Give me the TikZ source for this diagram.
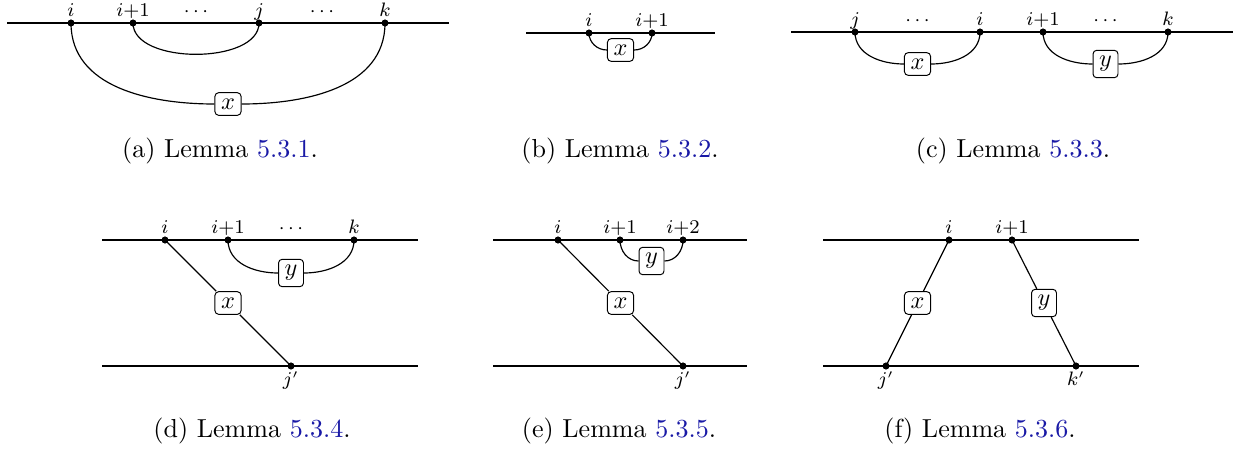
\documentclass[tikz,border=0pt]{standalone}
\usetikzlibrary{positioning}
\definecolor{linkblue}{rgb}{0.1,0.1,0.65}
\begin{document}
\begin{tikzpicture}[x=0.411pt,y=-0.411pt,
  dot/.style={circle,fill=black,inner sep=0pt,minimum size=2.8pt},
  box/.style={draw,rounded corners=1.5pt,fill=white,inner sep=2.5pt,font=\normalsize},
  toplab/.style={anchor=base,font=\fontsize{7.6}{9}\selectfont,inner sep=0pt},
  botlab/.style={anchor=north,font=\fontsize{7.6}{9}\selectfont,inner sep=0pt},
  captext/.style={anchor=base,font=\fontsize{10.7}{13}\selectfont,inner sep=0pt},
  wire/.style={line width=0.48pt}]
\useasboundingbox (0,0) rectangle (1237,448);
% ---------------- (a)
\coordinate (aL) at (7,23); \coordinate (aR) at (449,23);
\draw[wire] (aL) -- (aR);
\node[dot] (ai) at (71,23) {};
\node[dot] (ai1) at (133,23) {};
\node[dot] (aj) at (259,23) {};
\node[dot] (ak) at (385,23) {};
\node[box] (ax) at (228,104) {$x$};
\draw[wire] (ai1.center) to[out=-90,in=-90,looseness=0.85] (aj.center);
\draw[wire] (ai.center) to[out=-90,in=180] (ax.west);
\draw[wire] (ax.east) to[out=0,in=-90] (ak.center);
\node[dot] at (ai) {}; \node[dot] at (ai1) {}; \node[dot] at (aj) {}; \node[dot] at (ak) {};
\node[toplab] (lai) at (71,16) {$i$};
\node[toplab] (lai1) at (133,16) {$i{+}1$};
\node[toplab] (lad1) at (196,16) {$\cdots$};
\node[toplab] (laj) at (259,16) {$j$};
\node[toplab] (lad2) at (322,16) {$\cdots$};
\node[toplab] (lak) at (385,16) {$k$};
\node[captext] (capa) at (220,157) {(a) Lemma \textcolor{linkblue}{5.3.1}.};
% ---------------- (b)
\coordinate (bL) at (526,33); \coordinate (bR) at (715,33);
\draw[wire] (bL) -- (bR);
\node[dot] (bi) at (589,33) {};
\node[dot] (bi1) at (652,33) {};
\node[box] (bx) at (620.5,50) {$x$};
\draw[wire] (bi.center) to[out=-90,in=180] (bx.west);
\draw[wire] (bx.east) to[out=0,in=-90] (bi1.center);
\node[dot] at (bi) {}; \node[dot] at (bi1) {};
\node[toplab] (lbi) at (589,26) {$i$};
\node[toplab] (lbi1) at (652,26) {$i{+}1$};
\node[captext] (capb) at (620,157) {(b) Lemma \textcolor{linkblue}{5.3.2}.};
% ---------------- (c)
\coordinate (cL) at (791,32); \coordinate (cR) at (1233,32);
\draw[wire] (cL) -- (cR);
\node[dot] (cj) at (855,32) {};
\node[dot] (ci) at (980,32) {};
\node[dot] (ci1) at (1043,32) {};
\node[dot] (ck) at (1168,32) {};
\node[box] (cx) at (917.5,64) {$x$};
\node[box] (cy) at (1105.5,64) {$y$};
\draw[wire] (cj.center) to[out=-90,in=180] (cx.west);
\draw[wire] (cx.east) to[out=0,in=-90] (ci.center);
\draw[wire] (ci1.center) to[out=-90,in=180] (cy.west);
\draw[wire] (cy.east) to[out=0,in=-90] (ck.center);
\node[dot] at (cj) {}; \node[dot] at (ci) {}; \node[dot] at (ci1) {}; \node[dot] at (ck) {};
\node[toplab] (lcj) at (855,25) {$j$};
\node[toplab] (lcd1) at (917.5,25) {$\cdots$};
\node[toplab] (lci) at (980,25) {$i$};
\node[toplab] (lci1) at (1043,25) {$i{+}1$};
\node[toplab] (lcd2) at (1105.5,25) {$\cdots$};
\node[toplab] (lck) at (1168,25) {$k$};
\node[captext] (capc) at (1013,157) {(c) Lemma \textcolor{linkblue}{5.3.3}.};
% ---------------- (d)
\coordinate (dTL) at (102,240); \coordinate (dTR) at (418,240);
\coordinate (dBL) at (102,366); \coordinate (dBR) at (418,366);
\draw[wire] (dTL) -- (dTR);
\draw[wire] (dBL) -- (dBR);
\node[dot] (di) at (165,240) {};
\node[dot] (di1) at (228,240) {};
\node[dot] (dk) at (354,240) {};
\node[dot] (dj) at (291,366) {};
\node[box] (dx) at (228,303) {$x$};
\node[box] (dy) at (291,273) {$y$};
\draw[wire] (di.center) -- (dx);
\draw[wire] (dx) -- (dj.center);
\draw[wire] (di1.center) to[out=-90,in=180] (dy.west);
\draw[wire] (dy.east) to[out=0,in=-90] (dk.center);
\node[dot] at (di) {}; \node[dot] at (di1) {}; \node[dot] at (dk) {}; \node[dot] at (dj) {};
\node[toplab] (ldi) at (165,233) {$i$};
\node[toplab] (ldi1) at (228,233) {$i{+}1$};
\node[toplab] (ldd) at (291,233) {$\cdots$};
\node[toplab] (ldk) at (354,233) {$k$};
\node[botlab] (ldj) at (291,371) {$j'$};
\node[captext] (capd) at (252,437) {(d) Lemma \textcolor{linkblue}{5.3.4}.};
% ---------------- (e)
\coordinate (eTL) at (493,240); \coordinate (eTR) at (747,240);
\coordinate (eBL) at (493,366); \coordinate (eBR) at (747,366);
\draw[wire] (eTL) -- (eTR);
\draw[wire] (eBL) -- (eBR);
\node[dot] (ei) at (558,240) {};
\node[dot] (ei1) at (620,240) {};
\node[dot] (ei2) at (683,240) {};
\node[dot] (ej) at (683,366) {};
\node[box] (ex) at (620.5,303) {$x$};
\node[box] (ey) at (651.5,261) {$y$};
\draw[wire] (ei.center) -- (ex);
\draw[wire] (ex) -- (ej.center);
\draw[wire] (ei1.center) to[out=-90,in=180] (ey.west);
\draw[wire] (ey.east) to[out=0,in=-90] (ei2.center);
\node[dot] at (ei) {}; \node[dot] at (ei1) {}; \node[dot] at (ei2) {}; \node[dot] at (ej) {};
\node[toplab] (lei) at (558,233) {$i$};
\node[toplab] (lei1) at (620,233) {$i{+}1$};
\node[toplab] (lei2) at (683,233) {$i{+}2$};
\node[botlab] (lej) at (683,371) {$j'$};
\node[captext] (cape) at (619,437) {(e) Lemma \textcolor{linkblue}{5.3.5}.};
% ---------------- (f)
\coordinate (fTL) at (823,240); \coordinate (fTR) at (1139,240);
\coordinate (fBL) at (823,366); \coordinate (fBR) at (1139,366);
\draw[wire] (fTL) -- (fTR);
\draw[wire] (fBL) -- (fBR);
\node[dot] (fi) at (949,240) {};
\node[dot] (fi1) at (1012,240) {};
\node[dot] (fj) at (886,366) {};
\node[dot] (fk) at (1076,366) {};
\node[box] (fx) at (917.5,303) {$x$};
\node[box] (fy) at (1044,303) {$y$};
\draw[wire] (fi.center) -- (fx);
\draw[wire] (fx) -- (fj.center);
\draw[wire] (fi1.center) -- (fy);
\draw[wire] (fy) -- (fk.center);
\node[dot] at (fi) {}; \node[dot] at (fi1) {}; \node[dot] at (fj) {}; \node[dot] at (fk) {};
\node[toplab] (lfi) at (949,233) {$i$};
\node[toplab] (lfi1) at (1012,233) {$i{+}1$};
\node[botlab] (lfj) at (886,371) {$j'$};
\node[botlab] (lfk) at (1076,371) {$k'$};
\node[captext] (capf) at (980,437) {(f) Lemma \textcolor{linkblue}{5.3.6}.};
\end{tikzpicture}
\end{document}
